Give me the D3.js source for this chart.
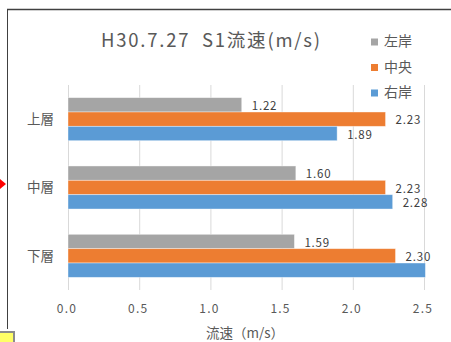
<!DOCTYPE html>
<html><head><meta charset="utf-8">
<script src="https://cdn.jsdelivr.net/npm/d3@7"></script>
<style>body{margin:0;background:#fff;}svg{display:block;}</style>
</head><body>
<script>
const categories = ["上層", "中層", "下層"];
const seriesNames = ["左岸", "中央", "右岸"];
const leftBank = [1.22, 1.60, 1.59];
const center = [2.23, 2.23, 2.30];
const rightBank = [1.89, 2.28, 2.51];
const xTicks = [0, 0.5, 1.0, 1.5, 2.0, 2.5];
const colors = ["#A5A5A5", "#ED7D31", "#5B9BD5"];
const seriesValues = [leftBank, center, rightBank];

const W = 451, H = 342;
const svg = d3.select("body").append("svg").attr("width", W).attr("height", H);
const font = "'Noto Sans CJK JP', 'Noto Sans', sans-serif";

// frame decorations
svg.append("line").attr("x1", 7).attr("x2", W).attr("y1", 9.5).attr("y2", 9.5).attr("stroke", "#404040").attr("stroke-width", 1.5);
svg.append("line").attr("x1", 7.5).attr("x2", 7.5).attr("y1", 9).attr("y2", 329).attr("stroke", "#404040").attr("stroke-width", 1);
svg.append("path").attr("d", "M0,179 L6,184 L0,189 Z").attr("fill", "#FF0000");
svg.append("rect").attr("x", -2).attr("y", 332).attr("width", 16).attr("height", 14).attr("fill", "#FFFF66").attr("stroke", "#8C8C8C").attr("stroke-width", 2);

const x = d3.scaleLinear().domain([0, 2.5]).range([68, 424]);
const y = d3.scaleBand().domain(categories).range([85, 290]).paddingInner(0.37).paddingOuter(0.185);
const ySub = d3.scaleBand().domain(seriesNames).range([0, y.bandwidth()]);

// gridlines
svg.append("g").selectAll("line").data(xTicks).join("line")
  .attr("x1", d => x(d) + 0.5).attr("x2", d => x(d) + 0.5)
  .attr("y1", 85).attr("y2", 290).attr("stroke", "#D9D9D9").attr("stroke-width", 1);

// bars
const barG = svg.append("g");
seriesNames.forEach((s, si) => {
  const vals = seriesValues[si];
  barG.selectAll(null).data(categories).join("rect")
    .attr("x", x(0))
    .attr("y", c => y(c) + ySub(s))
    .attr("width", (c, i) => x(Math.min(vals[i], 2.515)) - x(0))
    .attr("height", ySub.bandwidth())
    .attr("fill", colors[si])
    .attr("stroke", "rgba(255,255,255,0.5)").attr("stroke-width", 0.8);
  barG.selectAll(null).data(categories).join("text")
    .filter((c, i) => vals[i] <= 2.5)
    .attr("x", (c) => x(vals[categories.indexOf(c)]) + 10)
    .attr("y", c => y(c) + ySub(s) + ySub.bandwidth() / 2 + 2)
    .attr("dominant-baseline", "middle")
    .attr("font-family", font).attr("font-size", 11.5).attr("letter-spacing", 0.8).attr("fill", "#404040")
    .text(c => vals[categories.indexOf(c)].toFixed(2));
});

// y axis labels
svg.append("g").selectAll("text").data(categories).join("text")
  .attr("x", 54).attr("y", c => y(c) + y.bandwidth() / 2 + 1)
  .attr("text-anchor", "end").attr("dominant-baseline", "middle")
  .attr("font-family", font).attr("font-size", 13.5).attr("fill", "#595959")
  .text(d => d);

// x axis ticks
svg.append("g").selectAll("text").data(xTicks).join("text")
  .attr("x", d => x(d) - 1).attr("y", 310)
  .attr("text-anchor", "middle").attr("dominant-baseline", "middle")
  .attr("font-family", font).attr("font-size", 12).attr("letter-spacing", 1.2).attr("fill", "#595959")
  .text(d => d.toFixed(1));

// axis title
svg.append("text").attr("x", 245).attr("y", 334)
  .attr("text-anchor", "middle").attr("dominant-baseline", "middle")
  .attr("font-family", font).attr("font-size", 13.5).attr("fill", "#595959")
  .text("流速（m/s）");

// title
svg.append("text").attr("x", 101).attr("y", 42)
  .attr("dominant-baseline", "middle")
  .attr("font-family", font).attr("font-size", 18.5).attr("fill", "#595959")
  .attr("textLength", 219).attr("lengthAdjust", "spacing")
  .attr("xml:space", "preserve")
  .text("H30.7.27  S1流速(m/s)");

// legend
const leg = svg.append("g");
seriesNames.forEach((s, i) => {
  const ly = 42 + i * 25.5;
  leg.append("rect").attr("x", 371).attr("y", ly - 3.5).attr("width", 7).attr("height", 7).attr("fill", colors[i]);
  leg.append("text").attr("x", 384).attr("y", ly + 0.5).attr("dominant-baseline", "middle")
    .attr("font-family", font).attr("font-size", 14).attr("fill", "#595959").text(s);
});
</script>
</body></html>
